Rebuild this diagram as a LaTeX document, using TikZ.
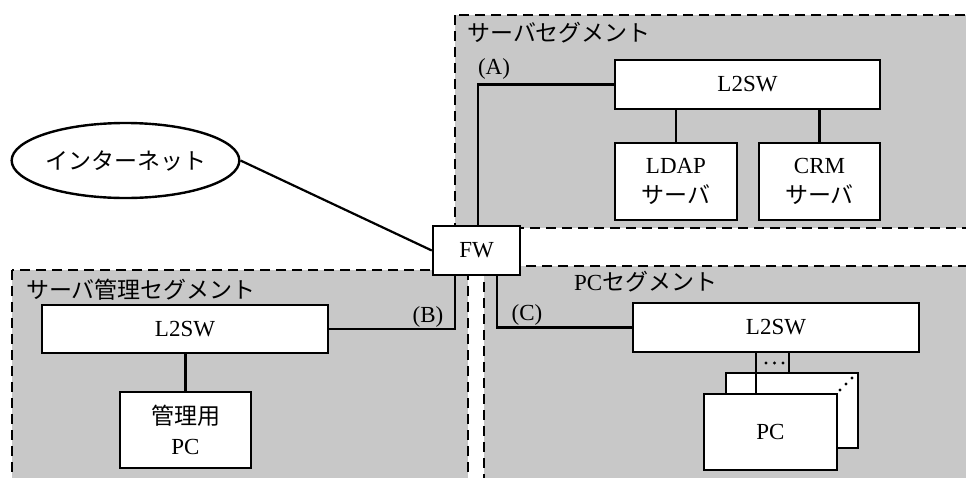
\documentclass[tikz,border=0pt]{standalone}
\usepackage{fontspec}
\setmainfont{Liberation Serif}
\newfontfamily\jp{Noto Sans CJK JP}
\usetikzlibrary{shapes.geometric,calc}
\definecolor{seggray}{RGB}{200,200,200}
\begin{document}
\begin{tikzpicture}[x=1pt,y=-1pt,
  font=\fontsize{23}{30}\selectfont,
  seg/.style={draw=black, fill=seggray, line width=2.6pt, dash pattern=on 10pt off 6pt},
  box/.style={draw=black, fill=white, line width=2.4pt, inner sep=0pt, align=center},
  wire/.style={draw=black, line width=2.2pt},
  lab/.style={inner sep=0pt}]
\useasboundingbox (0,0) rectangle (966,477);
\fill[white] (0,0) rectangle (966,477);
% segments
\draw[seg] (455,15) rectangle (985,228);
\draw[seg] (12,270) rectangle (468,495);
\draw[seg] (484,266) rectangle (985,495);
% segment labels
\node[lab, anchor=west] (sLab) at (467,33) {\jp サーバセグメント};
\node[lab] (aLab) at (494,69) {(A)};
\node[lab, anchor=west] (mLab) at (26,290) {\jp サーバ管理セグメント};
\node[lab] (bLab) at (428,317) {(B)};
\node[lab, anchor=west] (pLab) at (574,282) {PC{\jp セグメント}};
\node[lab] (cLab) at (527,315) {(C)};
% nodes
\node[draw=black, fill=white, line width=2.4pt, ellipse, inner sep=0pt, minimum width=225pt, minimum height=75pt] (inet) at (125.5,160.5) {\jp インターネット};
\node[box, minimum width=87pt, minimum height=49pt] (fw) at (476.5,250.5) {FW};
\node[box, minimum width=265pt, minimum height=49pt] (sL2) at (747.5,84.5) {L2SW};
\node[box, minimum width=122pt, minimum height=77pt] (ldap) at (676,181.5) {LDAP\\{\jp サーバ}};
\node[box, minimum width=121pt, minimum height=77pt] (crm) at (819.5,181.5) {CRM\\{\jp サーバ}};
\node[box, minimum width=286pt, minimum height=48pt] (mL2) at (185,329) {L2SW};
\node[box, minimum width=131pt, minimum height=76pt] (mpc) at (185.5,430) {{\jp 管理用}\\PC};
\node[box, minimum width=286pt, minimum height=49pt] (pL2) at (776,327.5) {L2SW};
\node[box, minimum width=132pt, minimum height=75pt] (pcb) at (792,410.5) {};
\node[box, minimum width=133pt, minimum height=76pt] (pcf) at (770.5,432) {PC};
% helper coordinates
\coordinate (ax) at (478,0);
\coordinate (bx) at (455,0);
\coordinate (cx) at (497,0);
\coordinate (p1) at (756,0);
\coordinate (p2) at (789,0);
% connectors
\draw[wire] (inet.east) -- (fw.west);
\draw[wire] (fw.north -| ax) |- (sL2.west);
\draw[wire] (mL2.east) -| (fw.south -| bx);
\draw[wire] (fw.south -| cx) |- (pL2.west);
\draw[wire] (sL2.south -| ldap.north) -- (ldap.north);
\draw[wire] (sL2.south -| crm.north) -- (crm.north);
\draw[wire] (mL2.south -| mpc.north) -- (mpc.north);
\draw[wire] (pL2.south -| p1) -- (pcf.north -| p1);
\draw[wire] (pL2.south -| p2) -- (pcb.north -| p2);
% ellipsis dots
\foreach \xx in {766,774.5,783} \fill (\xx,363) circle (1.6pt);
\foreach \xx/\yy in {840/390,846/384,852/378} \fill (\xx,\yy) circle (1.6pt);
\end{tikzpicture}
\end{document}
